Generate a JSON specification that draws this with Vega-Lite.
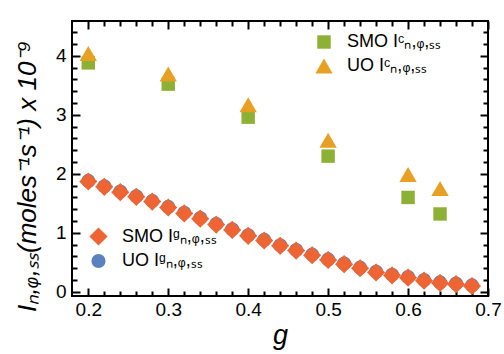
{
  "$schema": "https://vega.github.io/schema/vega-lite/v6.json",
  "width": 416,
  "height": 275,
  "autosize": "none",
  "padding": {"left": 72, "top": 21, "right": 16, "bottom": 58},
  "background": "white",
  "config": {
    "view": {"stroke": "black", "strokeWidth": 2},
    "font": "Liberation Sans",
    "axis": {"domain": false, "grid": false, "ticks": true, "labelFont": "Liberation Sans", "labelFontSize": 19, "labelColor": "black", "tickColor": "black", "tickWidth": 2, "titleColor": "black", "titleFont": "Liberation Sans", "titleFontStyle": "italic", "titleFontWeight": "normal"},
    "legend": {"padding": 0, "labelFont": "Liberation Sans", "labelFontSize": 18, "labelColor": "black", "symbolStrokeWidth": 0, "rowPadding": 6, "labelOffset": 14, "symbolOpacity": 1}
  },
  "data": {"values": [
    {"g": 0.2, "v": 3.88, "s": "SMO Iᶜₙ,ᵩ,ₛₛ", "k": "c"},
    {"g": 0.3, "v": 3.52, "s": "SMO Iᶜₙ,ᵩ,ₛₛ", "k": "c"},
    {"g": 0.4, "v": 2.96, "s": "SMO Iᶜₙ,ᵩ,ₛₛ", "k": "c"},
    {"g": 0.5, "v": 2.30, "s": "SMO Iᶜₙ,ᵩ,ₛₛ", "k": "c"},
    {"g": 0.6, "v": 1.60, "s": "SMO Iᶜₙ,ᵩ,ₛₛ", "k": "c"},
    {"g": 0.64, "v": 1.32, "s": "SMO Iᶜₙ,ᵩ,ₛₛ", "k": "c"},
    {"g": 0.2, "v": 4.04, "s": "UO Iᶜₙ,ᵩ,ₛₛ", "k": "c"},
    {"g": 0.3, "v": 3.69, "s": "UO Iᶜₙ,ᵩ,ₛₛ", "k": "c"},
    {"g": 0.4, "v": 3.17, "s": "UO Iᶜₙ,ᵩ,ₛₛ", "k": "c"},
    {"g": 0.5, "v": 2.57, "s": "UO Iᶜₙ,ᵩ,ₛₛ", "k": "c"},
    {"g": 0.6, "v": 1.99, "s": "UO Iᶜₙ,ᵩ,ₛₛ", "k": "c"},
    {"g": 0.64, "v": 1.75, "s": "UO Iᶜₙ,ᵩ,ₛₛ", "k": "c"},
    {"g": 0.2, "v": 1.88, "s": "UO Iᵍₙ,ᵩ,ₛₛ", "k": "g"},
    {"g": 0.22, "v": 1.79, "s": "UO Iᵍₙ,ᵩ,ₛₛ", "k": "g"},
    {"g": 0.24, "v": 1.70, "s": "UO Iᵍₙ,ᵩ,ₛₛ", "k": "g"},
    {"g": 0.26, "v": 1.62, "s": "UO Iᵍₙ,ᵩ,ₛₛ", "k": "g"},
    {"g": 0.28, "v": 1.54, "s": "UO Iᵍₙ,ᵩ,ₛₛ", "k": "g"},
    {"g": 0.3, "v": 1.44, "s": "UO Iᵍₙ,ᵩ,ₛₛ", "k": "g"},
    {"g": 0.32, "v": 1.34, "s": "UO Iᵍₙ,ᵩ,ₛₛ", "k": "g"},
    {"g": 0.34, "v": 1.25, "s": "UO Iᵍₙ,ᵩ,ₛₛ", "k": "g"},
    {"g": 0.36, "v": 1.15, "s": "UO Iᵍₙ,ᵩ,ₛₛ", "k": "g"},
    {"g": 0.38, "v": 1.06, "s": "UO Iᵍₙ,ᵩ,ₛₛ", "k": "g"},
    {"g": 0.4, "v": 0.96, "s": "UO Iᵍₙ,ᵩ,ₛₛ", "k": "g"},
    {"g": 0.42, "v": 0.88, "s": "UO Iᵍₙ,ᵩ,ₛₛ", "k": "g"},
    {"g": 0.44, "v": 0.79, "s": "UO Iᵍₙ,ᵩ,ₛₛ", "k": "g"},
    {"g": 0.46, "v": 0.71, "s": "UO Iᵍₙ,ᵩ,ₛₛ", "k": "g"},
    {"g": 0.48, "v": 0.63, "s": "UO Iᵍₙ,ᵩ,ₛₛ", "k": "g"},
    {"g": 0.5, "v": 0.55, "s": "UO Iᵍₙ,ᵩ,ₛₛ", "k": "g"},
    {"g": 0.52, "v": 0.48, "s": "UO Iᵍₙ,ᵩ,ₛₛ", "k": "g"},
    {"g": 0.54, "v": 0.41, "s": "UO Iᵍₙ,ᵩ,ₛₛ", "k": "g"},
    {"g": 0.56, "v": 0.34, "s": "UO Iᵍₙ,ᵩ,ₛₛ", "k": "g"},
    {"g": 0.58, "v": 0.29, "s": "UO Iᵍₙ,ᵩ,ₛₛ", "k": "g"},
    {"g": 0.6, "v": 0.25, "s": "UO Iᵍₙ,ᵩ,ₛₛ", "k": "g"},
    {"g": 0.62, "v": 0.20, "s": "UO Iᵍₙ,ᵩ,ₛₛ", "k": "g"},
    {"g": 0.64, "v": 0.16, "s": "UO Iᵍₙ,ᵩ,ₛₛ", "k": "g"},
    {"g": 0.66, "v": 0.14, "s": "UO Iᵍₙ,ᵩ,ₛₛ", "k": "g"},
    {"g": 0.68, "v": 0.11, "s": "UO Iᵍₙ,ᵩ,ₛₛ", "k": "g"},
    {"g": 0.2, "v": 1.87, "s": "SMO Iᵍₙ,ᵩ,ₛₛ", "k": "g"},
    {"g": 0.22, "v": 1.78, "s": "SMO Iᵍₙ,ᵩ,ₛₛ", "k": "g"},
    {"g": 0.24, "v": 1.69, "s": "SMO Iᵍₙ,ᵩ,ₛₛ", "k": "g"},
    {"g": 0.26, "v": 1.61, "s": "SMO Iᵍₙ,ᵩ,ₛₛ", "k": "g"},
    {"g": 0.28, "v": 1.53, "s": "SMO Iᵍₙ,ᵩ,ₛₛ", "k": "g"},
    {"g": 0.3, "v": 1.43, "s": "SMO Iᵍₙ,ᵩ,ₛₛ", "k": "g"},
    {"g": 0.32, "v": 1.33, "s": "SMO Iᵍₙ,ᵩ,ₛₛ", "k": "g"},
    {"g": 0.34, "v": 1.24, "s": "SMO Iᵍₙ,ᵩ,ₛₛ", "k": "g"},
    {"g": 0.36, "v": 1.14, "s": "SMO Iᵍₙ,ᵩ,ₛₛ", "k": "g"},
    {"g": 0.38, "v": 1.05, "s": "SMO Iᵍₙ,ᵩ,ₛₛ", "k": "g"},
    {"g": 0.4, "v": 0.95, "s": "SMO Iᵍₙ,ᵩ,ₛₛ", "k": "g"},
    {"g": 0.42, "v": 0.87, "s": "SMO Iᵍₙ,ᵩ,ₛₛ", "k": "g"},
    {"g": 0.44, "v": 0.78, "s": "SMO Iᵍₙ,ᵩ,ₛₛ", "k": "g"},
    {"g": 0.46, "v": 0.70, "s": "SMO Iᵍₙ,ᵩ,ₛₛ", "k": "g"},
    {"g": 0.48, "v": 0.62, "s": "SMO Iᵍₙ,ᵩ,ₛₛ", "k": "g"},
    {"g": 0.5, "v": 0.54, "s": "SMO Iᵍₙ,ᵩ,ₛₛ", "k": "g"},
    {"g": 0.52, "v": 0.47, "s": "SMO Iᵍₙ,ᵩ,ₛₛ", "k": "g"},
    {"g": 0.54, "v": 0.40, "s": "SMO Iᵍₙ,ᵩ,ₛₛ", "k": "g"},
    {"g": 0.56, "v": 0.33, "s": "SMO Iᵍₙ,ᵩ,ₛₛ", "k": "g"},
    {"g": 0.58, "v": 0.28, "s": "SMO Iᵍₙ,ᵩ,ₛₛ", "k": "g"},
    {"g": 0.6, "v": 0.24, "s": "SMO Iᵍₙ,ᵩ,ₛₛ", "k": "g"},
    {"g": 0.62, "v": 0.19, "s": "SMO Iᵍₙ,ᵩ,ₛₛ", "k": "g"},
    {"g": 0.64, "v": 0.15, "s": "SMO Iᵍₙ,ᵩ,ₛₛ", "k": "g"},
    {"g": 0.66, "v": 0.13, "s": "SMO Iᵍₙ,ᵩ,ₛₛ", "k": "g"},
    {"g": 0.68, "v": 0.10, "s": "SMO Iᵍₙ,ᵩ,ₛₛ", "k": "g"}
  ]},
  "layer": [
    {
      "transform": [{"filter": "datum.k === 'c'"}],
      "mark": {"type": "point", "filled": true, "opacity": 1, "strokeWidth": 0},
      "encoding": {
        "x": {"field": "g", "type": "quantitative", "scale": {"domain": [0.1796, 0.7], "nice": false, "zero": false},
          "axis": {"orient": "bottom", "title": "g", "titleFontSize": 27, "titlePadding": 3,
            "values": [0.2,0.22,0.24,0.26,0.28,0.3,0.32,0.34,0.36,0.38,0.4,0.42,0.44,0.46,0.48,0.5,0.52,0.54,0.56,0.58,0.6,0.62,0.64,0.66,0.68,0.7],
            "labelExpr": "abs(datum.value*10 - round(datum.value*10)) < 0.001 ? format(datum.value, '.1f') : ''",
            "tickSize": {"condition": {"test": "abs(datum.value*10 - round(datum.value*10)) < 0.001", "value": -8}, "value": -5},
            "labelPadding": 12, "labelFlush": false}},
        "y": {"field": "v", "type": "quantitative", "scale": {"domain": [-0.07, 4.59], "nice": false, "zero": false},
          "axis": {"orient": "left", "title": "Iₙ,ᵩ,ₛₛ(moles⁻¹s⁻¹) x 10⁻⁹", "titleFontSize": 26,
            "titleX": -45, "titleY": 155, "titleAngle": -90, "titleAlign": "center", "titleBaseline": "middle",
            "values": [0,0.2,0.4,0.6,0.8,1,1.2,1.4,1.6,1.8,2,2.2,2.4,2.6,2.8,3,3.2,3.4,3.6,3.8,4,4.2,4.4],
            "labelExpr": "abs(datum.value - round(datum.value)) < 0.001 ? format(datum.value, 'd') : ''",
            "tickSize": {"condition": {"test": "abs(datum.value - round(datum.value)) < 0.001", "value": -8}, "value": -5},
            "labelPadding": 14, "labelFlush": false}},
        "shape": {"field": "s", "type": "nominal", "scale": {"domain": ["SMO Iᶜₙ,ᵩ,ₛₛ", "UO Iᶜₙ,ᵩ,ₛₛ"], "range": ["square", "triangle-up"]},
          "legend": {"title": null, "orient": "none", "legendX": 243, "legendY": 12}},
        "color": {"field": "s", "type": "nominal", "scale": {"domain": ["SMO Iᶜₙ,ᵩ,ₛₛ", "UO Iᶜₙ,ᵩ,ₛₛ"], "range": ["#8cb134", "#e8a024"]},
          "legend": {"title": null, "orient": "none", "legendX": 243, "legendY": 12}},
        "size": {"field": "s", "type": "nominal", "scale": {"domain": ["SMO Iᶜₙ,ᵩ,ₛₛ", "UO Iᶜₙ,ᵩ,ₛₛ"], "range": [180, 300]},
          "legend": {"title": null, "orient": "none", "legendX": 243, "legendY": 12}}
      }
    },
    {
      "transform": [{"filter": "datum.k === 'g'"}],
      "mark": {"type": "point", "filled": true, "opacity": 1, "strokeWidth": 0},
      "encoding": {
        "x": {"field": "g", "type": "quantitative",
          "axis": {"orient": "top", "title": null, "labels": false,
            "values": [0.2,0.22,0.24,0.26,0.28,0.3,0.32,0.34,0.36,0.38,0.4,0.42,0.44,0.46,0.48,0.5,0.52,0.54,0.56,0.58,0.6,0.62,0.64,0.66,0.68,0.7],
            "tickSize": {"condition": {"test": "abs(datum.value*10 - round(datum.value*10)) < 0.001", "value": -8}, "value": -5}}},
        "y": {"field": "v", "type": "quantitative",
          "axis": {"orient": "right", "title": null, "labels": false,
            "values": [0,0.2,0.4,0.6,0.8,1,1.2,1.4,1.6,1.8,2,2.2,2.4,2.6,2.8,3,3.2,3.4,3.6,3.8,4,4.2,4.4],
            "tickSize": {"condition": {"test": "abs(datum.value - round(datum.value)) < 0.001", "value": -8}, "value": -5}}},
        "shape": {"field": "s", "type": "nominal", "scale": {"domain": ["SMO Iᵍₙ,ᵩ,ₛₛ", "UO Iᵍₙ,ᵩ,ₛₛ"], "range": ["diamond", "circle"]},
          "legend": {"title": null, "orient": "none", "legendX": 17, "legendY": 206}},
        "color": {"field": "s", "type": "nominal", "scale": {"domain": ["SMO Iᵍₙ,ᵩ,ₛₛ", "UO Iᵍₙ,ᵩ,ₛₛ"], "range": ["#ee6533", "#5b82be"]},
          "legend": {"title": null, "orient": "none", "legendX": 17, "legendY": 206}},
        "size": {"field": "s", "type": "nominal", "scale": {"domain": ["SMO Iᵍₙ,ᵩ,ₛₛ", "UO Iᵍₙ,ᵩ,ₛₛ"], "range": [330, 200]},
          "legend": {"title": null, "orient": "none", "legendX": 17, "legendY": 206}}
      }
    }
  ],
  "resolve": {
    "scale": {"color": "independent", "shape": "independent", "size": "independent"},
    "axis": {"x": "independent", "y": "independent"}
  }
}
